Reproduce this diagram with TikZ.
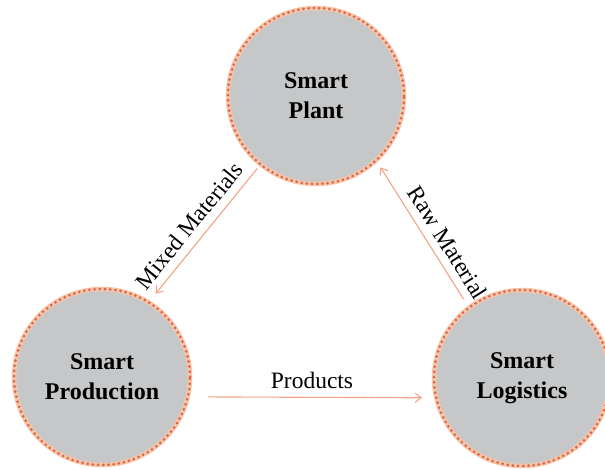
\documentclass[tikz,border=0pt]{standalone}
\usepackage{fontspec}
\setmainfont{Liberation Serif}
\usetikzlibrary{arrows.meta}
\definecolor{circfill}{HTML}{C6C7C9}
\definecolor{dotcol}{HTML}{DC6448}
\definecolor{halo}{HTML}{F6C6AA}
\definecolor{arrcol}{HTML}{F2A486}
\tikzset{
  hub/.style={circle, minimum size=176pt, inner sep=0pt, fill=circfill,
    font=\fontsize{24}{30}\selectfont\bfseries, align=center, text=black},
  rim/.style={halo, line width=4.5pt},
  dots/.style={dotcol, line width=3pt, line cap=round, dash pattern=on 0pt off 5.2pt},
  flow/.style={arrcol, line width=1.1pt, -{Straight Barb[length=6pt,width=9pt]}},
  lbl/.style={font=\fontsize{23.5}{28}\selectfont, text=black, inner sep=2pt}
}
\begin{document}
\begin{tikzpicture}[x=1pt,y=1pt]
\useasboundingbox (0,0) rectangle (605,470);
\node[hub] (plant) at (316,374) {Smart\\Plant};
\node[hub] (prod) at (102,93) {Smart\\Production};
\node[hub] (logi) at (522,92) {Smart\\Logistics};
\foreach \n in {plant,prod,logi}{
  \draw[rim] (\n.center) circle (88pt);
  \draw[dots] (\n.center) circle (88pt);
}
\draw[flow, shorten <=5pt, shorten >=11pt] (plant.231) -- (prod.58)
  node[lbl, pos=0.52, sloped, above=6pt] {Mixed Materials};
\draw[flow, shorten <=10pt, shorten >=8pt] (logi.127) -- (plant.313)
  node[lbl, pos=0.38, sloped, above=6pt] {Raw Material};
\draw[flow, shorten <=20pt, shorten >=14pt] (prod.-13) -- (logi.193)
  node[lbl, midway, above=6pt] {Products};
\end{tikzpicture}
\end{document}
